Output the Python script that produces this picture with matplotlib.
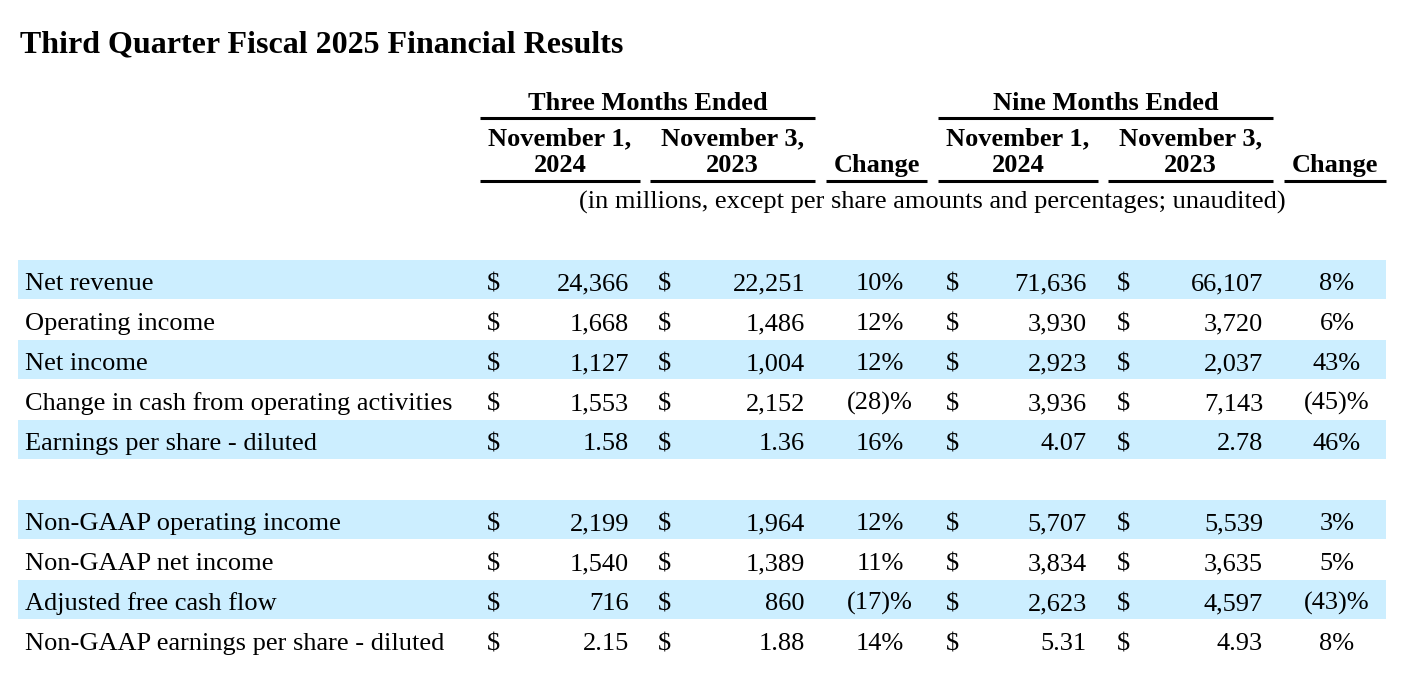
import matplotlib.pyplot as plt
from matplotlib.patches import Rectangle

plt.rcParams['font.family'] = ['Liberation Serif', 'DejaVu Serif']

title = 'Third Quarter Fiscal 2025 Financial Results'
period_titles = ['Three Months Ended', 'Nine Months Ended']
date_headers = [('November 1,', '2024'), ('November 3,', '2023')]
units_note = '(in millions, except per share amounts and percentages; unaudited)'

labels = ['Net revenue', 'Operating income', 'Net income',
          'Change in cash from operating activities', 'Earnings per share - diluted',
          'Non-GAAP operating income', 'Non-GAAP net income',
          'Adjusted free cash flow', 'Non-GAAP earnings per share - diluted']
q3_2024 = [24366, 1668, 1127, 1553, 1.58, 2199, 1540, 716, 2.15]
q3_2023 = [22251, 1486, 1004, 2152, 1.36, 1964, 1389, 860, 1.88]
q3_change = [10, 12, 12, -28, 16, 12, 11, -17, 14]
ytd_2024 = [71636, 3930, 2923, 3936, 4.07, 5707, 3834, 2623, 5.31]
ytd_2023 = [66107, 3720, 2037, 7143, 2.78, 5539, 3635, 4597, 4.93]
ytd_change = [8, 6, 43, -45, 46, 3, 5, -43, 8]
is_eps = [False, False, False, False, True, False, False, False, True]
shaded = [True, False, True, False, True, True, False, True, False]


def fmt_val(v, eps):
    return f'{v:.2f}' if eps else f'{v:,.0f}'


def fmt_pct(p):
    return f'({-p})%' if p < 0 else f'{p}%'


fig = plt.figure(figsize=(14.02, 6.76), dpi=100)
ax = fig.add_axes([0, 0, 1, 1])
ax.set_xlim(0, 1402)
ax.set_ylim(676, 0)
ax.axis('off')

fs = 19
ax.text(20, 52, title, fontsize=23, fontweight='bold', ha='left', va='baseline')

# column layout (pixel positions)
blocks = [
    dict(x0=480, x1=815, cols=[(480, 640), (650, 815)], chg=(826, 927)),
    dict(x0=938, x1=1273, cols=[(938, 1098), (1108, 1273)], chg=(1284, 1386)),
]
for b, name in zip(blocks, period_titles):
    ax.text((b['x0'] + b['x1']) / 2, 110, name, fontsize=fs, fontweight='bold',
            ha='center', va='baseline')
    ax.plot([b['x0'], b['x1']], [118, 118], color='black', lw=2.2,
            solid_capstyle='butt')
    for (c0, c1), (l1, l2) in zip(b['cols'], date_headers):
        xc = (c0 + c1) / 2
        ax.text(xc, 145, l1, fontsize=fs, fontweight='bold', ha='center', va='baseline')
        ax.text(xc, 172, l2, fontsize=fs, fontweight='bold', ha='center', va='baseline')
        ax.plot([c0, c1], [181, 181], color='black', lw=2.2, solid_capstyle='butt')
    c0, c1 = b['chg']
    ax.text((c0 + c1) / 2, 172, 'Change', fontsize=fs, fontweight='bold',
            ha='center', va='baseline')
    ax.plot([c0, c1], [181, 181], color='black', lw=2.2, solid_capstyle='butt')

ax.text(932, 209, units_note, fontsize=fs, ha='center', va='baseline')

row_tops = [260, 300, 340, 380, 420, 500, 540, 580, 620]
row_h = 40
dollar_x = [487, 658, 946, 1117]
value_x = [629, 805, 1087, 1263]
chg_x = [880, 1337]

for i, lab in enumerate(labels):
    top = row_tops[i]
    if shaded[i]:
        ax.add_patch(Rectangle((18, top), 1368, row_h - 1, facecolor='#cceeff',
                               edgecolor='none', zorder=0))
    base = top + 30
    ax.text(25, base, lab, fontsize=fs, ha='left', va='baseline')
    vals = [q3_2024[i], q3_2023[i], ytd_2024[i], ytd_2023[i]]
    for dx, vx, v in zip(dollar_x, value_x, vals):
        ax.text(dx, base, '$', fontsize=fs, ha='left', va='baseline')
        ax.text(vx, base, fmt_val(v, is_eps[i]), fontsize=fs, ha='right',
                va='baseline')
    for cx, p in zip(chg_x, [q3_change[i], ytd_change[i]]):
        ax.text(cx, base, fmt_pct(p), fontsize=fs, ha='center', va='baseline')

fig.savefig('out.png', dpi=100, facecolor='white')
